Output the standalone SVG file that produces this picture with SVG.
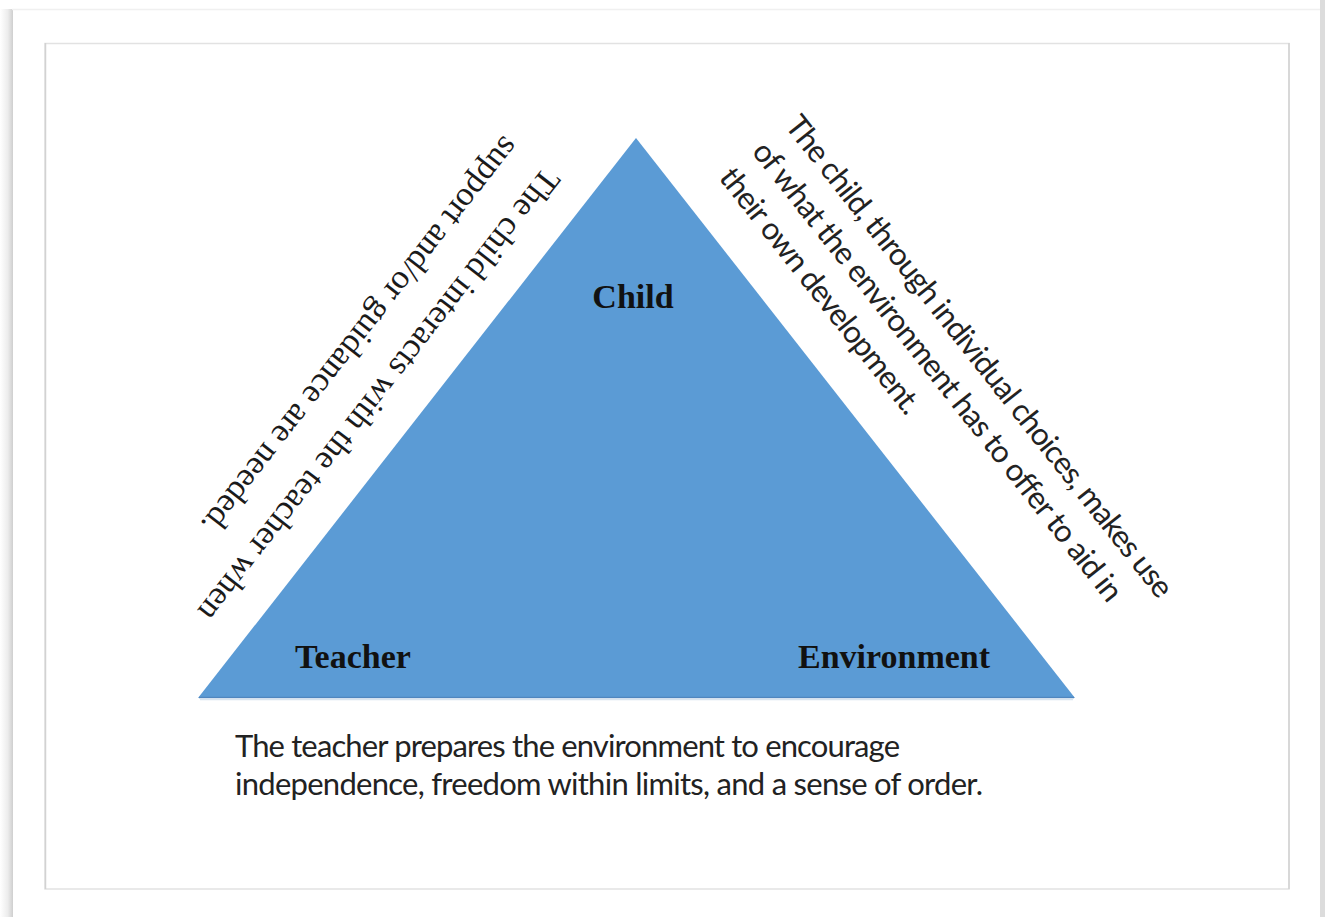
<svg xmlns="http://www.w3.org/2000/svg" width="1325" height="917" viewBox="0 0 1325 917">
  <style>
    .serif { font-family: "Liberation Serif", "Times New Roman", serif; fill: #1a1a1a; }
    .label { font-family: "Liberation Serif", "Times New Roman", serif; font-weight: bold; font-size: 34px; fill: #111; }
    .sans { font-family: Lato, "Open Sans", "Liberation Sans", sans-serif; font-size: 31px; fill: #222; }
  </style>
  <defs>
    <linearGradient id="shadowL" x1="0" y1="0" x2="1" y2="0">
      <stop offset="0" stop-color="#ffffff"/>
      <stop offset="0.6" stop-color="#ececec"/>
      <stop offset="1" stop-color="#cfcfcf"/>
    </linearGradient>
  </defs>
  <rect width="1325" height="917" fill="#ffffff"/>
  <g id="page-frame">
    <rect x="0" y="9" width="13" height="908" fill="url(#shadowL)"/>
    <line x1="12" y1="9.5" x2="1325" y2="9.5" stroke="#f0f0f0" stroke-width="1.5"/>
    <rect x="1320" y="0" width="5" height="917" fill="#dcdcdc"/>
    <rect x="45" y="43.5" width="1244" height="845.5" fill="#ffffff" stroke="#e2e2e2" stroke-width="1.5"/>
    <line x1="45.5" y1="43" x2="45.5" y2="889" stroke="#d2d2d2" stroke-width="1.5"/>
    <line x1="1289" y1="43" x2="1289" y2="889" stroke="#d2d2d2" stroke-width="1.5"/>
  </g>
  <g id="triangle">
    <polygon points="636,138 198,698 1075,698" fill="#5b9bd5"/>
    <line x1="199" y1="697.5" x2="1074" y2="697.5" stroke="#4f86bf" stroke-width="1.5"/>
    <line x1="200" y1="699.5" x2="1073" y2="699.5" stroke="#d8e4ef" stroke-width="1.5"/>
  </g>
  <g id="node-child">
    <text class="label" x="633" y="308" text-anchor="middle">Child</text>
  </g>
  <g id="node-teacher">
    <text class="label" x="295" y="668">Teacher</text>
  </g>
  <g id="node-environment">
    <text class="label" x="798" y="668">Environment</text>
  </g>
  <g id="note-left">
    <text class="serif" font-size="34" transform="translate(544,166) rotate(128)">
      <tspan x="0" y="0" textLength="564">The child interacts with the teacher when</tspan>
      <tspan x="0" y="51" textLength="494">support and/or guidance are needed.</tspan>
    </text>
  </g>
  <g id="note-right">
    <text class="sans" transform="translate(784,126) rotate(51.7)">
      <tspan x="0" y="0" textLength="604">The child, through individual choices, makes use</tspan>
      <tspan x="0" y="42" textLength="576">of what the environment has to offer to aid in</tspan>
      <tspan x="0" y="84" textLength="304">their own development.</tspan>
    </text>
  </g>
  <g id="note-bottom">
    <text class="sans">
      <tspan x="235" y="757" textLength="665">The teacher prepares the environment to encourage</tspan>
      <tspan x="235" y="795" textLength="748">independence, freedom within limits, and a sense of order.</tspan>
    </text>
  </g>
</svg>
